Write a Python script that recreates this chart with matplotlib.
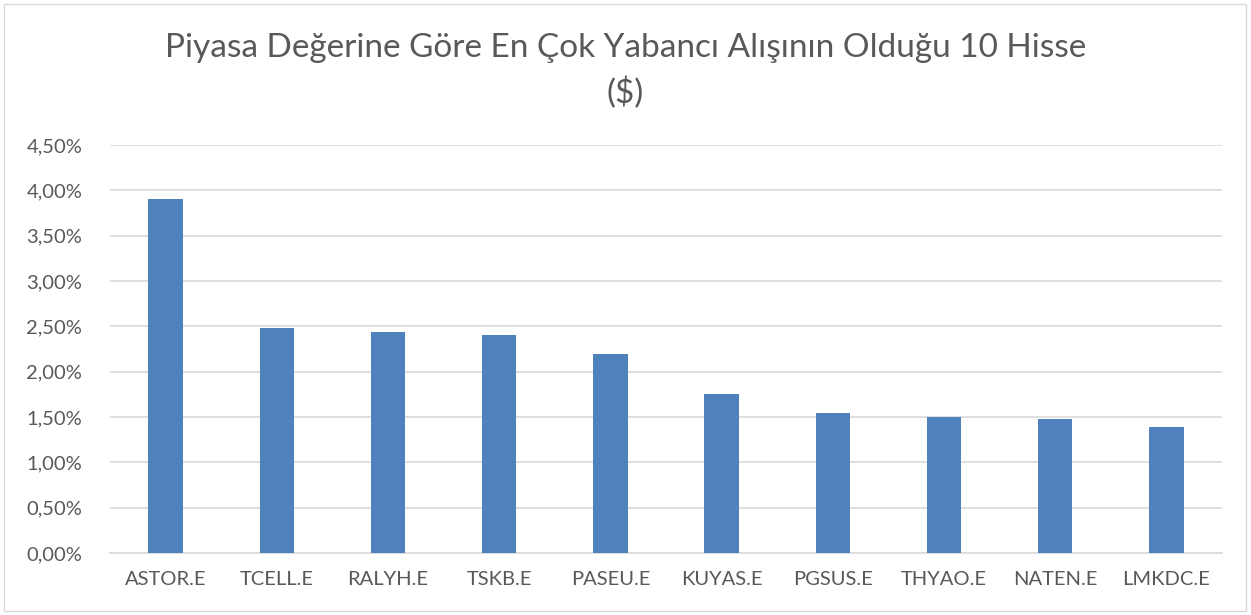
import matplotlib.pyplot as plt
from matplotlib.patches import Rectangle
from matplotlib.ticker import FuncFormatter

plt.rcParams['font.family'] = ['Lato', 'DejaVu Sans']

tickers = ['ASTOR.E', 'TCELL.E', 'RALYH.E', 'TSKB.E', 'PASEU.E',
           'KUYAS.E', 'PGSUS.E', 'THYAO.E', 'NATEN.E', 'LMKDC.E']
shares = [3.905, 2.486, 2.437, 2.404, 2.199, 1.751, 1.541, 1.503, 1.475, 1.39]
yticks = [0, 0.5, 1.0, 1.5, 2.0, 2.5, 3.0, 3.5, 4.0, 4.5]

TEXT = '#595959'
BAR = '#4f81bd'

fig = plt.figure(figsize=(12.51, 6.15), dpi=100)
ax = fig.add_axes([110 / 1251, 1 - 553 / 615, 1112 / 1251, 408 / 615])

ax.bar(range(len(tickers)), shares, width=0.31, color=BAR, zorder=3)
ax.set_xlim(-0.5, len(tickers) - 0.5)
ax.set_ylim(0, 4.5)
ax.set_yticks(yticks)
ax.yaxis.set_major_formatter(FuncFormatter(lambda v, p: f'{v:.2f}%'.replace('.', ',')))
ax.set_xticks(range(len(tickers)))
ax.set_xticklabels(tickers)
ax.grid(axis='y', color='#d9d9d9', linewidth=1.2, zorder=0)
for s in ['top', 'right', 'left']:
    ax.spines[s].set_visible(False)
ax.spines['bottom'].set_color('#d9d9d9')
ax.spines['bottom'].set_linewidth(1.2)
ax.tick_params(axis='both', length=0, labelsize=14.5, colors=TEXT)
ax.tick_params(axis='x', pad=13)
ax.tick_params(axis='y', pad=20)

fig.text(0.5, 1 - 48 / 615, 'Piyasa Değerine Göre En Çok Yabancı Alışının Olduğu 10 Hisse',
         ha='center', va='center', fontsize=24, color=TEXT)
fig.text(0.5, 1 - 93 / 615, '($)', ha='center', va='center', fontsize=24, color=TEXT)

fig.patches.append(Rectangle((4 / 1251, 4 / 615), 1242 / 1251, 607 / 615,
                             transform=fig.transFigure, fill=False,
                             edgecolor='#d9d9d9', linewidth=1))

fig.savefig('out.png', dpi=100, facecolor='white')
